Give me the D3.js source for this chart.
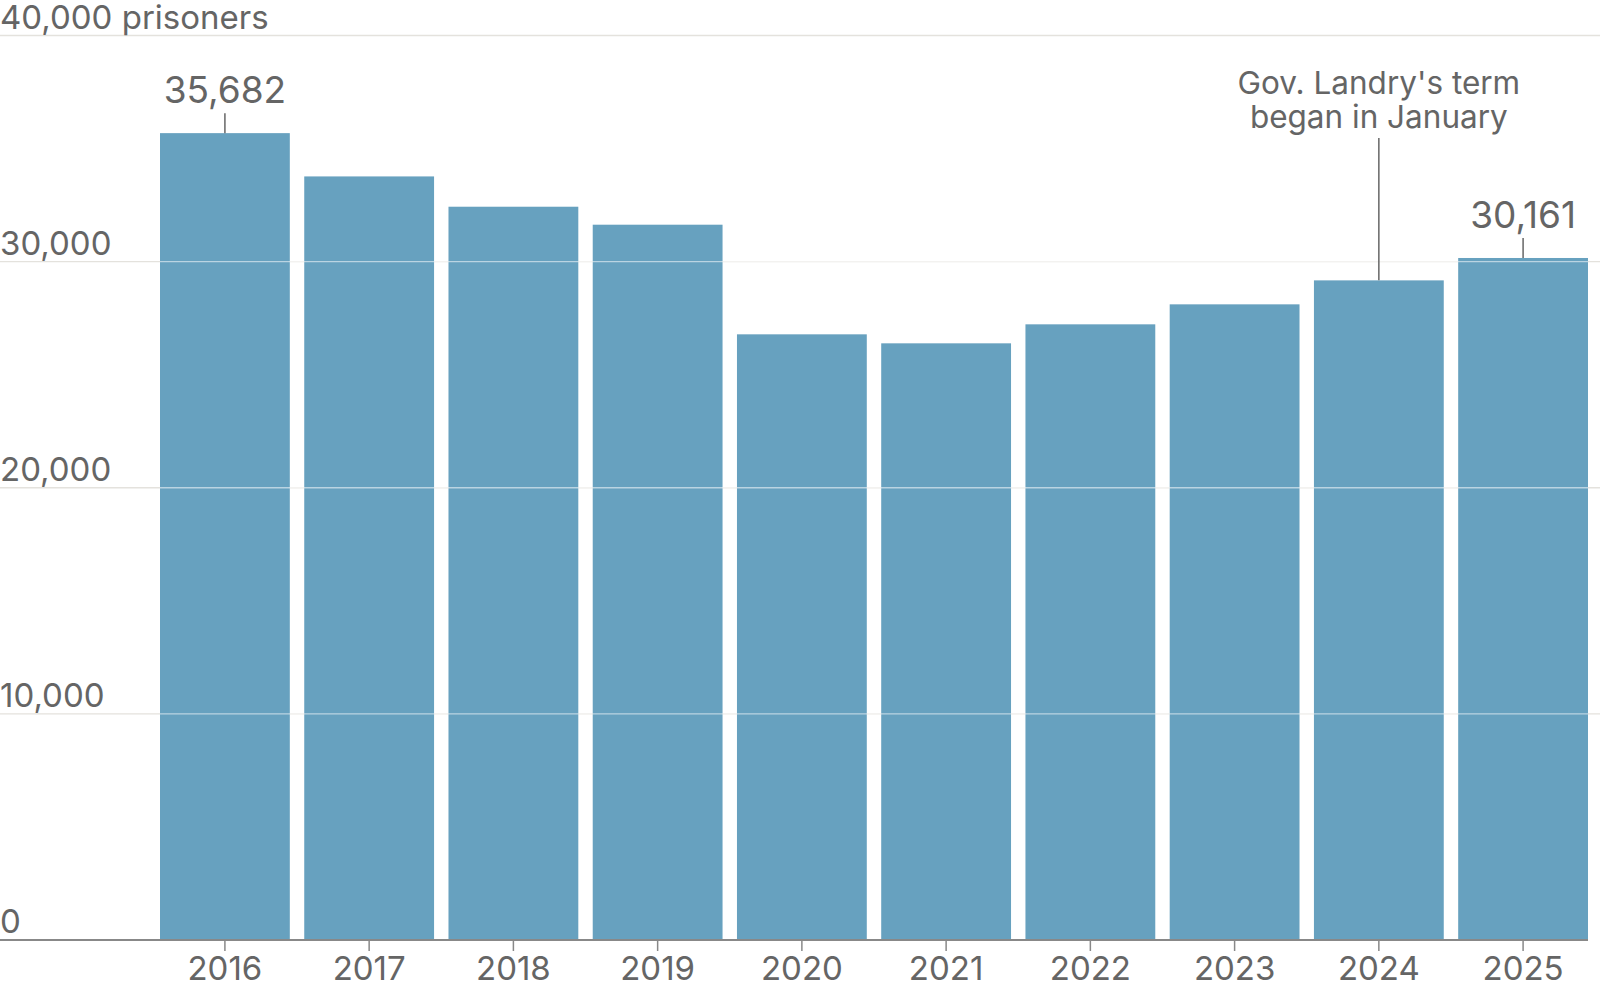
<!DOCTYPE html>
<html><head><meta charset="utf-8">
<script src="https://cdn.jsdelivr.net/npm/d3@7"></script>
<style>
html,body{margin:0;padding:0;background:#fff;}
svg text{font-family:Inter, "Noto Sans", sans-serif;fill:#656565;}
</style></head>
<body><svg id="c" width="1600" height="1001"></svg>
<script>
const years = ["2016","2017","2018","2019","2020","2021","2022","2023","2024","2025"];
const prisoners = [35682, 33768, 32428, 31633, 26785, 26387, 27227, 28111, 29171, 30161];
const yTicks = [0, 10000, 20000, 30000, 40000];
const valueLabels = [{year:"2016", value:35682}, {year:"2025", value:30161}];
const annotation = {year:"2024", lines:["Gov. Landry's term","began in January"]};

const svg = d3.select("#c");
const x = d3.scaleBand().domain(years).range([160, 1588]).paddingInner(0.1).paddingOuter(0);
const y = d3.scaleLinear().domain([0, 40000]).range([940, 35.5]);
const fmt = d3.format(",");

// gridlines under bars
svg.append("g").selectAll("line").data(yTicks.filter(d=>d>0)).join("line")
  .attr("x1",0).attr("x2",1600).attr("y1",d=>y(d)).attr("y2",d=>y(d))
  .attr("stroke","#e4e2dd").attr("stroke-width",1.3);

// bars
svg.append("g").selectAll("rect").data(years).join("rect")
  .attr("x",d=>x(d)).attr("width",x.bandwidth())
  .attr("y",(d,i)=>y(prisoners[i])).attr("height",(d,i)=>y(0)-y(prisoners[i]))
  .attr("fill","#67a1bf");

// gridlines over bars (light)
svg.append("g").selectAll("line").data(yTicks.filter(d=>d>0 && d<40000)).join("line")
  .attr("x1",160).attr("x2",1588).attr("y1",d=>y(d)).attr("y2",d=>y(d))
  .attr("stroke","#ffffff").attr("stroke-opacity",0.55).attr("stroke-width",1.3);

// y labels
svg.append("g").selectAll("text").data(yTicks).join("text")
  .attr("x",0).attr("y",d=>y(d)-7)
  .attr("font-size",33)
  .text(d=> d===40000 ? fmt(d)+" prisoners" : fmt(d));

// x axis
const xAxis = d3.axisBottom(x).tickSize(11).tickPadding(10).tickSizeOuter(0);
const gx = svg.append("g").attr("transform",`translate(0,${y(0)})`).call(xAxis);
gx.select(".domain").remove();
gx.selectAll(".tick line").attr("stroke","#888").attr("stroke-width",1.5);
gx.selectAll(".tick text").attr("font-size",33).attr("fill","#656565")
  .attr("font-family","Inter, 'Noto Sans', sans-serif").attr("y",40).attr("dy",0);
svg.append("line").attr("x1",0).attr("x2",1588).attr("y1",y(0)).attr("y2",y(0))
  .attr("stroke","#888").attr("stroke-width",2);

// value labels
const vl = svg.append("g").selectAll("g").data(valueLabels).join("g");
vl.append("line")
  .attr("x1",d=>x(d.year)+x.bandwidth()/2).attr("x2",d=>x(d.year)+x.bandwidth()/2)
  .attr("y1",d=>y(d.value)-20).attr("y2",d=>y(d.value))
  .attr("stroke","#666").attr("stroke-width",1.5);
vl.append("text")
  .attr("x",d=>x(d.year)+x.bandwidth()/2).attr("y",d=>y(d.value)-30)
  .attr("text-anchor","middle").attr("font-size",37)
  .text(d=>fmt(d.value));

// annotation
const ai = years.indexOf(annotation.year);
const ax = x(annotation.year)+x.bandwidth()/2;
svg.append("line").attr("x1",ax).attr("x2",ax).attr("y1",138).attr("y2",y(prisoners[ai]))
  .attr("stroke","#666").attr("stroke-width",1.5);
svg.append("g").selectAll("text").data(annotation.lines).join("text")
  .attr("x",ax).attr("y",(d,i)=>94+i*33.5)
  .attr("text-anchor","middle").attr("font-size",31.5)
  .text(d=>d);
</script></body></html>
